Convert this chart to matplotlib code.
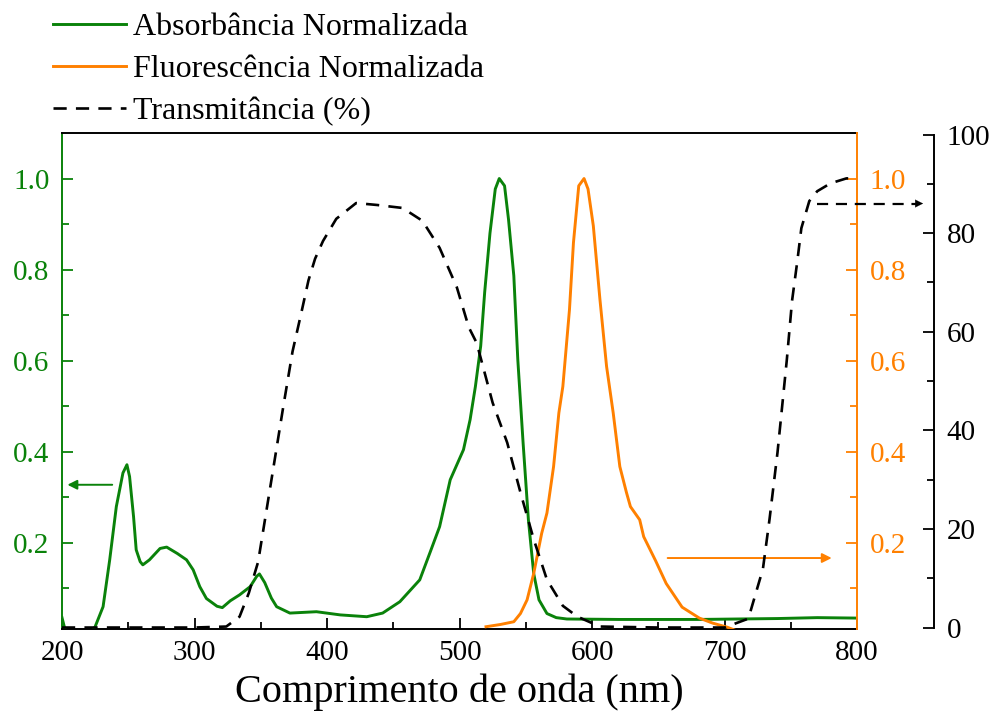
import numpy as np
import matplotlib
matplotlib.use('Agg')
from matplotlib import pyplot as plt
from matplotlib.ticker import MultipleLocator

plt.rcParams['font.family'] = ['Liberation Serif', 'DejaVu Serif']

GREEN = '#0a820a'
ORANGE = '#ff8000'

# absorbancia normalizada
abs_nm = [200, 202, 205, 215, 222, 225, 231, 236, 241, 246, 249, 251, 254, 256, 259, 261,
          266, 274, 279, 287, 294, 299, 304, 309, 317, 321, 327, 334, 342, 347, 349, 353,
          358, 362, 372, 392, 410, 430, 442, 455, 470, 478, 485, 493, 503, 508, 512, 516,
          519, 523, 527, 530, 534, 537, 541, 544, 548, 552, 556, 560, 566, 573, 581, 620,
          680, 740, 770, 800]
abs_val = [0.035, 0.012, 0.0, 0.0, 0.004, 0.015, 0.059, 0.162, 0.279, 0.353, 0.371, 0.345,
           0.257, 0.184, 0.158, 0.151, 0.162, 0.187, 0.19, 0.176, 0.162, 0.14, 0.103, 0.077,
           0.06, 0.057, 0.072, 0.085, 0.103, 0.126, 0.131, 0.112, 0.078, 0.059, 0.045, 0.048,
           0.041, 0.037, 0.045, 0.07, 0.118, 0.18, 0.235, 0.338, 0.404, 0.47, 0.543, 0.632,
           0.75, 0.88, 0.977, 1.0, 0.984, 0.91, 0.786, 0.602, 0.419, 0.25, 0.132, 0.074,
           0.044, 0.035, 0.032, 0.031, 0.031, 0.033, 0.035, 0.034]

# fluorescencia normalizada
fl_nm = [520, 531, 541, 546, 551, 556, 562, 566, 571, 575, 578, 583, 586, 590, 594, 597,
         601, 606, 611, 616, 621, 626, 629, 636, 639, 648, 656, 668, 681, 691, 702, 710]
fl_val = [0.015, 0.02, 0.026, 0.044, 0.074, 0.132, 0.22, 0.265, 0.367, 0.485, 0.543, 0.712,
          0.859, 0.984, 1.0, 0.977, 0.896, 0.734, 0.587, 0.485, 0.367, 0.31, 0.279, 0.25,
          0.213, 0.16, 0.11, 0.058, 0.034, 0.023, 0.014, 0.005]

# transmitancia (%)
tr_nm = [200, 250, 300, 324, 334, 341, 348, 359, 367, 374, 381, 386, 391, 397, 407, 422,
         438, 457, 472, 485, 498, 507, 513, 525, 536, 546, 556, 566, 578, 589, 606, 650,
         700, 718, 729, 734, 740, 743, 747, 751, 755, 758, 764, 770, 780, 792, 800]
tr_val = [0, 0, 0, 0.2, 2.2, 7, 13.3, 31.5, 44.8, 56, 64.3, 70.4, 74.8, 78.4, 82.9, 86.1,
          85.7, 85.1, 82.5, 77, 69, 60.9, 57.7, 45.6, 37.5, 27.4, 17.9, 9.7, 4.4, 2.2, 0.2,
          0, 0, 1.8, 11.9, 22, 35.5, 43.5, 54.2, 66.3, 74.4, 81, 86.5, 88.5, 90.1, 91.1, 91.1]

fig = plt.figure(figsize=(10, 7.16), dpi=100)
ax = fig.add_axes([0.062, 0.1215, 0.795, 0.6927])
ax2 = ax.twinx()
ax3 = ax.twinx()

l1, = ax.plot(abs_nm, abs_val, color=GREEN, lw=2.1, zorder=3)
l2, = ax2.plot(fl_nm, fl_val, color=ORANGE, lw=2.1, zorder=3)
l3, = ax3.plot(tr_nm, tr_val, color='black', lw=1.9, dashes=(5, 3.5), zorder=2)

ax.set_xlim(200, 800)
ax.set_ylim(0.01, 1.1)
ax2.set_ylim(0.01, 1.1)
ax3.set_ylim(-0.3, 100.3)

ax.set_xticks([200, 300, 400, 500, 600, 700, 800])
ax.xaxis.set_minor_locator(MultipleLocator(50))
for a in (ax, ax2):
    a.set_yticks([0.2, 0.4, 0.6, 0.8, 1.0])
    a.set_yticks([0.1, 0.3, 0.5, 0.7, 0.9], minor=True)
ax3.set_yticks([0, 20, 40, 60, 80, 100])
ax3.set_yticks([10, 30, 50, 70, 90], minor=True)

ax.tick_params(axis='x', which='both', direction='in', top=False, labelsize=21, pad=8,
               width=1.3)
ax.tick_params(axis='x', which='major', length=8)
ax.tick_params(axis='x', which='minor', length=5)
ax.tick_params(axis='y', which='both', direction='in', colors=GREEN, labelsize=21, pad=9,
               width=1.3)
ax.tick_params(axis='y', which='major', length=8)
ax.tick_params(axis='y', which='minor', length=5)
ax2.tick_params(axis='y', which='both', direction='in', colors=ORANGE, labelsize=21, pad=9,
                width=1.3)
ax2.tick_params(axis='y', which='major', length=8)
ax2.tick_params(axis='y', which='minor', length=5)
ax3.tick_params(axis='y', which='both', direction='in', colors='black', labelsize=21, pad=9,
                width=1.3)
ax3.tick_params(axis='y', which='major', length=8)
ax3.tick_params(axis='y', which='minor', length=5)

ax.spines['left'].set_color(GREEN)
ax.spines['right'].set_visible(False)
for s in ('left', 'top', 'bottom'):
    ax2.spines[s].set_visible(False)
    ax3.spines[s].set_visible(False)
ax2.spines['right'].set_color(ORANGE)
ax3.spines['right'].set_position(('axes', 1.097))
ax3.spines['right'].set_bounds(0, 100)
for a in (ax, ax2, ax3):
    for s in a.spines.values():
        s.set_linewidth(1.4)

ax.set_xlabel('Comprimento de onda (nm)', fontsize=29, labelpad=5)

# setas indicando o eixo de cada curva
ax.annotate('', xy=(202, 0.327), xytext=(240, 0.327),
            arrowprops=dict(arrowstyle='-|>', color=GREEN, lw=1.4, mutation_scale=14))
ax2.annotate('', xy=(783, 0.166), xytext=(655, 0.166),
             arrowprops=dict(arrowstyle='-|>', color=ORANGE, lw=1.4, mutation_scale=14))
ax3.plot([770, 846], [86, 86], color='black', lw=1.6, dashes=(5, 3.5), clip_on=False)
ax3.annotate('', xy=(852, 86), xytext=(840, 86), annotation_clip=False,
             arrowprops=dict(arrowstyle='-|>', color='black', lw=0.1, mutation_scale=14))

fig.legend([l1, l2, l3],
           ['Absorbância Normalizada', 'Fluorescência Normalizada', 'Transmitância (%)'],
           loc='upper left', bbox_to_anchor=(0.04, 1.0), frameon=False, fontsize=23,
           handlelength=2.3, handletextpad=0.2, labelspacing=0.4, borderaxespad=0)

fig.savefig('out.png', dpi=100)
